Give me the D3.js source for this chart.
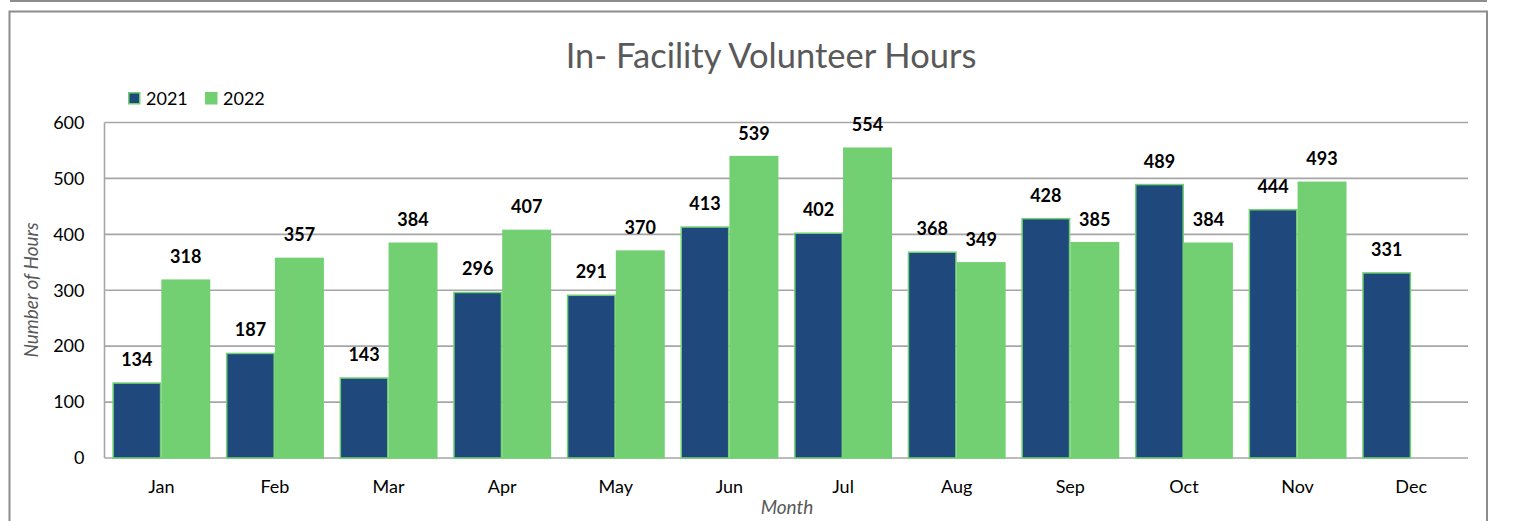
<!DOCTYPE html>
<html><head><meta charset="utf-8">
<script src="https://cdn.jsdelivr.net/npm/d3@7"></script>
<style>body{margin:0;background:#fff;} svg{display:block;}</style>
</head><body>
<script>
const months = ["Jan","Feb","Mar","Apr","May","Jun","Jul","Aug","Sep","Oct","Nov","Dec"];
const seriesNames = ["2021","2022"];
const values2021 = [134,187,143,296,291,413,402,368,428,489,444,331];
const values2022 = [318,357,384,407,370,539,554,349,385,384,493,null];
const yTicks = [0,100,200,300,400,500,600];
const colors = ["#1F497D","#72D072"];
const title = "In- Facility Volunteer Hours";
const xTitle = "Month";
const yTitle = "Number of Hours";

const W = 1514, H = 521;
const font = "Lato, 'Open Sans', sans-serif";
const svg = d3.select("body").append("svg").attr("width", W).attr("height", H);

// outer frames
svg.append("path").attr("d","M10,1 H1487").attr("stroke","#8c8c8c").attr("stroke-width",2).attr("fill","none");
svg.append("path").attr("d","M9.5,530 V11.5 H1487 V530").attr("stroke","#8c8c8c").attr("stroke-width",2).attr("fill","none");

const x0 = d3.scaleBand().domain(months).range([104.5, 1468]).paddingInner(0.138).paddingOuter(0.069);
const x1 = d3.scaleBand().domain(seriesNames).range([0, x0.bandwidth()]);
const y = d3.scaleLinear().domain([0,600]).range([458,122.5]);

// gridlines
svg.append("g").selectAll("line").data(yTicks).join("line")
  .attr("x1",104.5).attr("x2",1468).attr("y1",d=>y(d)).attr("y2",d=>y(d))
  .attr("stroke","#a6a6a6").attr("stroke-width",1.6);
svg.append("line").attr("x1",104.5).attr("x2",104.5).attr("y1",y(600)).attr("y2",y(0))
  .attr("stroke","#a6a6a6").attr("stroke-width",1.6);

// y axis labels
const yAxis = d3.axisLeft(y).tickValues(yTicks).tickSize(0).tickPadding(20);
const gy = svg.append("g").attr("transform","translate(104.5,0)").call(yAxis);
gy.select(".domain").remove();
gy.selectAll("text").attr("font-family",font).attr("font-size",18).attr("fill","#000");

// x axis labels
const xAxis = d3.axisBottom(x0).tickSize(0).tickPadding(22);
const gx = svg.append("g").attr("transform","translate(0,458)").call(xAxis);
gx.select(".domain").remove();
gx.selectAll("text").attr("font-family",font).attr("font-size",18).attr("fill","#000");

const data = months.map((m,i)=>({m, vals:[values2021[i], values2022[i]]}));
const groups = svg.append("g").selectAll("g").data(data).join("g")
  .attr("transform", d=>`translate(${x0(d.m)},0)`);
const bars = groups.selectAll("g").data(d=>d.vals.map((v,j)=>({v, s:seriesNames[j], j})).filter(e=>e.v!=null)).join("g");
bars.append("rect")
  .attr("x", d=>x1(d.s)+0.75).attr("width", x1.bandwidth()-1.5)
  .attr("y", d=>y(d.v)).attr("height", d=>y(0)-y(d.v))
  .attr("fill", d=>colors[d.j]).attr("stroke","#72D072").attr("stroke-width",1.5);
bars.append("text")
  .attr("x", d=>x1(d.s)+x1.bandwidth()/2).attr("y", d=>y(d.v)-17)
  .attr("text-anchor","middle").attr("font-family",font).attr("font-size",18).attr("font-weight","bold")
  .attr("fill","#000").text(d=>d.v);

// title
svg.append("text").attr("x",771).attr("y",68).attr("text-anchor","middle")
  .attr("font-family",font).attr("font-size",34.5).attr("fill","#595959").text(title);

// legend
const leg = svg.append("g").selectAll("g").data(seriesNames).join("g")
  .attr("transform",(d,i)=>`translate(${128+i*77},92)`);
leg.append("rect").attr("x",0.75).attr("y",0.75).attr("width",11).attr("height",11)
  .attr("fill",(d,i)=>colors[i]).attr("stroke","#72D072").attr("stroke-width",1.5);
leg.append("text").attr("x",18).attr("y",12.5).attr("font-family",font).attr("font-size",18).attr("fill","#000").text(d=>d);

// axis titles
svg.append("text").attr("x",787).attr("y",514).attr("text-anchor","middle")
  .attr("font-family",font).attr("font-size",19).attr("font-style","italic").attr("fill","#595959").text(xTitle);
svg.append("text").attr("transform","translate(38,290) rotate(-90)").attr("text-anchor","middle")
  .attr("font-family",font).attr("font-size",19).attr("font-style","italic").attr("fill","#595959").text(yTitle);
</script>
</body></html>
